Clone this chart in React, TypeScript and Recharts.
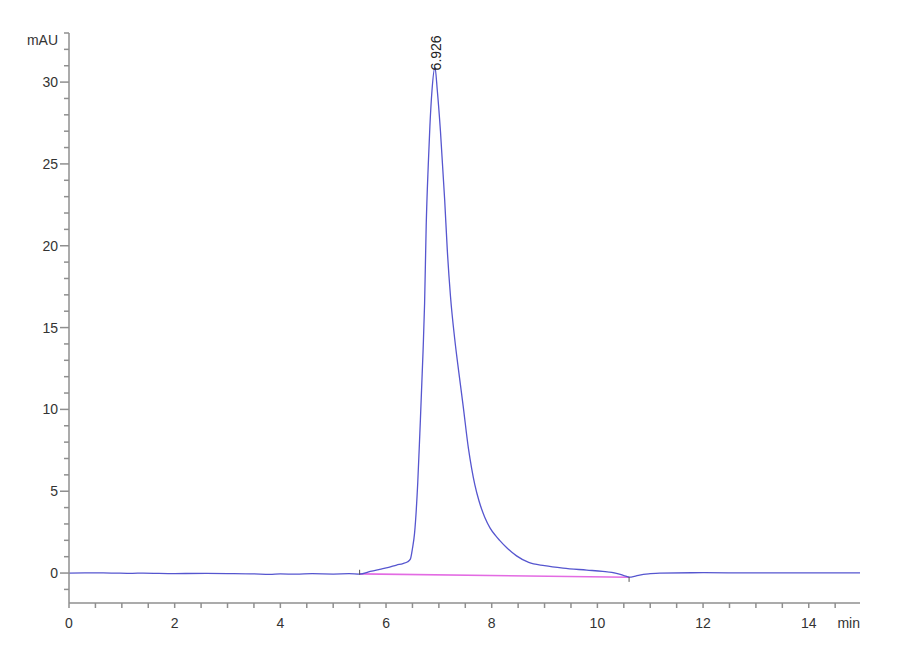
import React from 'react'
import { LineChart, Line, XAxis, YAxis, ReferenceDot, ReferenceLine } from 'recharts'

// retention time (min) / absorbance (mAU)
const times = [
  0, 0.3, 0.8, 1.2, 1.4, 2, 2.6, 3, 3.5, 3.8, 4, 4.3, 4.6, 5, 5.3, 5.5,
  5.7, 5.88, 6.05, 6.2, 6.32, 6.41, 6.46, 6.5, 6.54, 6.6, 6.64, 6.7, 6.73, 6.76, 6.8, 6.83, 6.87,
  6.926, 6.97, 7.03, 7.11, 7.16, 7.22, 7.3, 7.38, 7.46, 7.56, 7.62, 7.68, 7.76, 7.87, 7.97, 8.07,
  8.15, 8.3, 8.47, 8.7, 9.0, 9.35, 9.8, 10.1, 10.36, 10.5, 10.61, 10.7, 10.8, 11.0, 11.18,
  12, 13, 14, 14.97,
]
const signal = [
  0, 0.01, 0, -0.02, 0, -0.03, -0.02, -0.03, -0.05, -0.08, -0.05, -0.07, -0.04, -0.06, -0.04, -0.06,
  0.1, 0.23, 0.35, 0.49, 0.58, 0.69, 0.85, 1.5, 2.44, 5.5, 8.55, 13.5, 16.5, 21.2, 25, 27.3, 29.5,
  30.9, 29.5, 27.0, 22.8, 19.7, 16.9, 14.3, 12.2, 10.2, 7.6, 6.4, 5.4, 4.4, 3.4, 2.75, 2.3,
  2.0, 1.5, 1.05, 0.65, 0.45, 0.3, 0.18, 0.1, -0.02, -0.15, -0.25, -0.2, -0.12, -0.04, 0,
  0.02, 0.01, 0.01, 0.01,
]

// integration baseline
const baseTimes = [5.5, 10.6]
const baseValues = [-0.05, -0.26]

const peakTime = 6.926
const peakValue = 30.9
const peakLabel = '6.926'

const yTicks = Array.from({ length: 35 }, (_, i) => i - 1)
const xTicks = Array.from({ length: 30 }, (_, i) => i * 0.5)

const trace = times.map((t, i) => ({ t, v: signal[i] }))
const baseline = baseTimes.map((t, i) => ({ t, b: baseValues[i] }))

const font = '"Liberation Sans Narrow", "Arial Narrow", "Liberation Sans", Arial, sans-serif'
const axisColor = '#8f8f8f'
const textColor = '#333'

const YTick = (props: any) => {
  const { x, y, payload } = props
  const major = payload.value % 5 === 0
  return (
    <g>
      <line x1={x - (major ? 9 : 5)} x2={x} y1={y} y2={y} stroke={axisColor} strokeWidth={1.5} />
      {major && (
        <text x={x - 11} y={y} dy="0.36em" textAnchor="end" fontSize={14} fill={textColor} fontFamily={font}>
          {payload.value}
        </text>
      )}
    </g>
  )
}

const XTick = (props: any) => {
  const { x, y, payload } = props
  const major = payload.value % 2 === 0
  return (
    <g>
      <line x1={x} x2={x} y1={y} y2={y + 5} stroke={axisColor} strokeWidth={1.5} />
      {major && (
        <text x={x} y={y + 25} textAnchor="middle" fontSize={14} fill={textColor} fontFamily={font}>
          {payload.value}
        </text>
      )}
    </g>
  )
}

const PeakText = (props: any) => {
  const { cx, cy } = props
  const x = cx + 6
  const y = cy + 3
  return (
    <text x={x} y={y} transform={`rotate(-90 ${x} ${y})`} fontSize={14} fill="#222" fontFamily={font}>
      {peakLabel}
    </text>
  )
}

export default function App() {
  return (
    <div style={{ position: 'absolute', left: 0, top: 0, background: '#fff' }}>
      <LineChart width={900} height={660} margin={{ top: 33, right: 40, bottom: 27, left: 9 }}>
        <XAxis
          dataKey="t"
          type="number"
          domain={[0, 14.97]}
          allowDataOverflow
          ticks={xTicks}
          interval={0}
          tickSize={0}
          tickMargin={0}
          tickLine={false}
          tick={<XTick />}
          height={30}
          stroke={axisColor}
          strokeWidth={1.5}
          label={{
            content: (p: any) => (
              <text
                x={p.viewBox.x + p.viewBox.width}
                y={p.viewBox.y + 25}
                textAnchor="end"
                fontSize={14}
                fill={textColor}
                fontFamily={font}
              >
                min
              </text>
            ),
          }}
        />
        <YAxis
          type="number"
          domain={[-1.83, 33]}
          allowDataOverflow
          ticks={yTicks}
          interval={0}
          tickSize={0}
          tickMargin={0}
          tickLine={false}
          tick={<YTick />}
          width={60}
          stroke={axisColor}
          strokeWidth={1.5}
          label={{
            content: (p: any) => (
              <text
                x={p.viewBox.x + p.viewBox.width - 11}
                y={p.viewBox.y + 12}
                textAnchor="end"
                fontSize={14}
                fill={textColor}
                fontFamily={font}
              >
                mAU
              </text>
            ),
          }}
        />
        <Line
          data={baseline}
          dataKey="b"
          type="linear"
          stroke="#e36be3"
          strokeWidth={1.6}
          dot={false}
          isAnimationActive={false}
        />
        <Line
          data={trace}
          dataKey="v"
          type="monotone"
          stroke="#5656cf"
          strokeWidth={1.3}
          dot={false}
          isAnimationActive={false}
        />
        <ReferenceLine
          segment={[{ x: 5.5, y: 0.2 }, { x: 5.5, y: -0.1 }]}
          stroke="#555"
          strokeWidth={1}
        />
        <ReferenceLine
          segment={[{ x: 10.6, y: -0.24 }, { x: 10.6, y: -0.54 }]}
          stroke="#555"
          strokeWidth={1}
        />
        <ReferenceDot x={peakTime} y={peakValue} r={0} shape={<PeakText />} />
      </LineChart>
    </div>
  )
}
